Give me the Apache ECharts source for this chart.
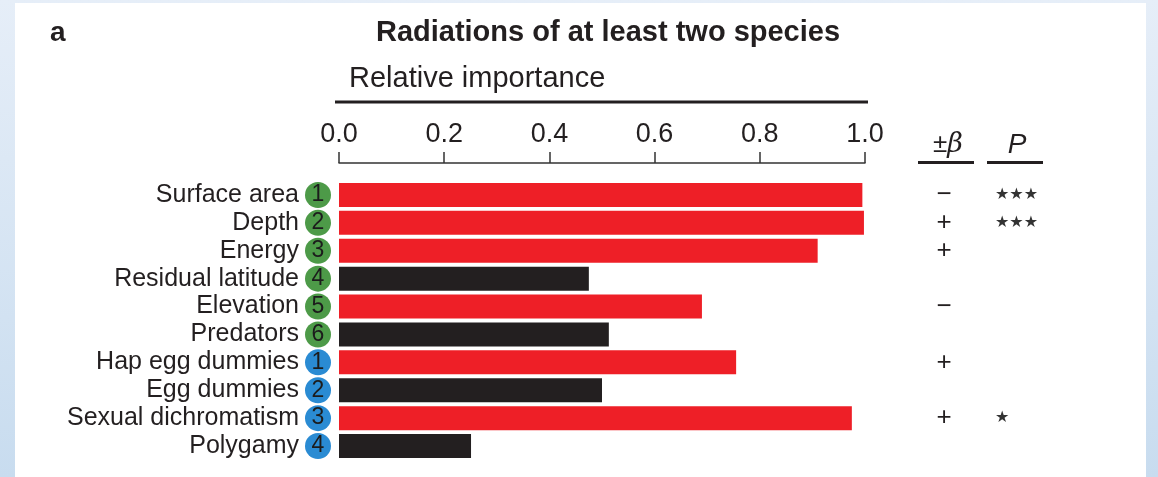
<!DOCTYPE html>
<html>
<head>
<meta charset="utf-8">
<script src="https://cdn.jsdelivr.net/npm/echarts@6/dist/echarts.min.js"></script>
<style>
  html, body { margin: 0; padding: 0; }
  #chart { width: 1158px; height: 477px; background: linear-gradient(to bottom, #e6eef8, #c8dcef); }
</style>
</head>
<body>
<div id="chart"></div>
<script>
// ---- data ----
const categories = ['Surface area', 'Depth', 'Energy', 'Residual latitude', 'Elevation', 'Predators',
                    'Hap egg dummies', 'Egg dummies', 'Sexual dichromatism', 'Polygamy'];
const importance = [0.995, 0.998, 0.910, 0.475, 0.690, 0.513, 0.755, 0.500, 0.975, 0.251];
const inModel = [true, true, true, false, true, false, true, false, true, false];
const groupNumber = [1, 2, 3, 4, 5, 6, 1, 2, 3, 4];
const groupKind = ['env', 'env', 'env', 'env', 'env', 'env', 'sex', 'sex', 'sex', 'sex'];
const betaSign = ['\u2212', '+', '+', '', '\u2212', '', '+', '', '+', ''];
const pStars = ['***', '***', '', '', '', '', '', '', '*', ''];
const xTicks = [0, 0.2, 0.4, 0.6, 0.8, 1.0];

const FONT = '"Liberation Sans", Arial, Helvetica, sans-serif';
const RED = '#ee1f27';
const BLACK = '#231f20';
const GREEN = '#4d9a48';
const BLUE = '#2a8bd3';

const chart = echarts.init(document.getElementById('chart'), null, { renderer: 'canvas' });

const rich = {
  t: { fontSize: 25, fontFamily: FONT, color: '#231f20' },
  g: { width: 6 },
  env: { width: 26, height: 26, borderRadius: 13, backgroundColor: GREEN, align: 'center',
         fontSize: 23, fontFamily: FONT, color: '#1c1c1c', lineHeight: 26 },
  sex: { width: 26, height: 26, borderRadius: 13, backgroundColor: BLUE, align: 'center',
         fontSize: 23, fontFamily: FONT, color: '#1c1c1c', lineHeight: 26 }
};

const richRight = {
  s: { width: 30, align: 'center', fontSize: 26, fontFamily: FONT, color: '#231f20' },
  g: { width: 36 },
  p: { fontSize: 16, fontFamily: '"DejaVu Sans", sans-serif', color: '#333', align: 'left' }
};

const option = {
  animation: false,
  backgroundColor: 'transparent',
  grid: { left: 339, right: 293, top: 181, bottom: 17, containLabel: false },
  xAxis: {
    type: 'value', min: 0, max: 1, interval: 0.2, position: 'top', offset: 18,
    axisLine: { show: true, lineStyle: { color: '#333', width: 1.5 } },
    axisTick: { show: true, length: 11, lineStyle: { color: '#333', width: 1.5 } },
    splitLine: { show: false },
    axisLabel: {
      margin: 15, fontSize: 27, fontFamily: FONT, color: '#231f20',
      formatter: v => xTicks.some(t => Math.abs(t - v) < 1e-9) ? v.toFixed(1) : ''
    }
  },
  yAxis: [
    {
      type: 'category', data: categories, inverse: true,
      axisLine: { show: false }, axisTick: { show: false },
      axisLabel: {
        margin: 8, rich: rich,
        formatter: (v, i) => '{t|' + v + '}{g| }{' + groupKind[i] + '|' + groupNumber[i] + '}'
      }
    },
    {
      type: 'category', data: categories, inverse: true, position: 'right',
      axisLine: { show: false }, axisTick: { show: false },
      axisLabel: {
        margin: 64, align: 'left', rich: richRight,
        formatter: (v, i) => '{s|' + (betaSign[i] || ' ') + '}{g| }{p|' +
          (pStars[i] ? pStars[i].replace(/\*/g, '\u2605') : ' ') + '}'
      }
    }
  ],
  series: [{
    type: 'bar',
    barCategoryGap: '14%',
    data: importance.map((v, i) => ({ value: v, itemStyle: { color: inModel[i] ? RED : BLACK } }))
  }],
  graphic: [
    { type: 'rect', z: -10, shape: { x: 15, y: 3, width: 1131, height: 480 }, style: { fill: '#ffffff' } },
    { type: 'text', x: 50, y: 33, style: { text: 'a', font: 'bold 28px ' + FONT, fill: '#231f20', verticalAlign: 'middle' } },
    { type: 'text', x: 608, y: 33, style: { text: 'Radiations of at least two species', font: 'bold 29px ' + FONT,
        fill: '#231f20', align: 'center', verticalAlign: 'middle' } },
    { type: 'text', x: 349, y: 79, style: { text: 'Relative importance', font: '29px ' + FONT,
        fill: '#231f20', align: 'left', verticalAlign: 'middle' } },
    { type: 'line', shape: { x1: 335, y1: 102, x2: 868, y2: 102 }, style: { stroke: '#231f20', lineWidth: 3 } },
    { type: 'text', x: 948, y: 145, style: {
        text: '{pm|\u00b1}{b|\u03b2}', align: 'center', verticalAlign: 'middle',
        rich: { pm: { fontSize: 26, fontFamily: FONT, fill: '#231f20' },
                b: { fontSize: 27, fontFamily: '"DejaVu Serif", serif', fontStyle: 'italic', fill: '#231f20' } } } },
    { type: 'line', shape: { x1: 918, y1: 162.5, x2: 974, y2: 162.5 }, style: { stroke: '#231f20', lineWidth: 3 } },
    { type: 'text', x: 1017, y: 145, style: { text: 'P', font: 'italic 28px ' + FONT, fill: '#231f20',
        align: 'center', verticalAlign: 'middle' } },
    { type: 'line', shape: { x1: 987, y1: 162.5, x2: 1043, y2: 162.5 }, style: { stroke: '#231f20', lineWidth: 3 } }
  ]
};
chart.setOption(option);
</script>
</body>
</html>
